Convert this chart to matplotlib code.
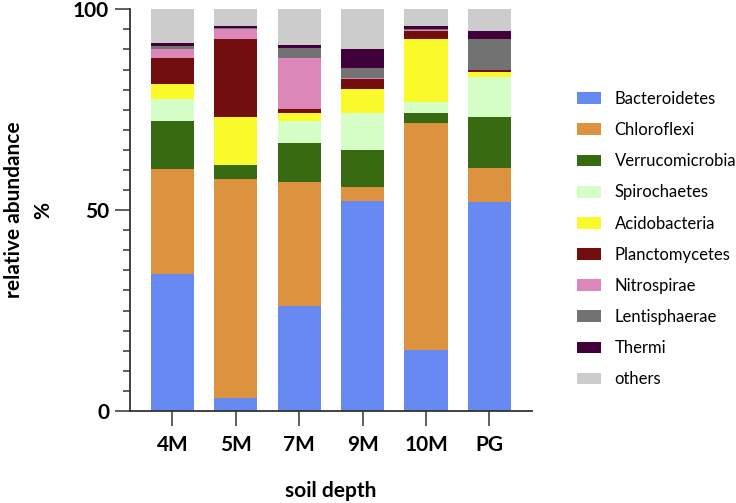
import matplotlib
matplotlib.use("Agg")
import matplotlib.pyplot as plt
from matplotlib.patches import Patch
import numpy as np

plt.rcParams['font.family'] = ['Lato', 'DejaVu Sans']

categories = ["4M", "5M", "7M", "9M", "10M", "PG"]
phyla = ["Bacteroidetes", "Chloroflexi", "Verrucomicrobia", "Spirochaetes",
         "Acidobacteria", "Planctomycetes", "Nitrospirae", "Lentisphaerae",
         "Thermi", "others"]

Bacteroidetes   = [34.2, 3.3, 26.2, 52.4, 15.2, 52.0]
Chloroflexi     = [26.1, 54.4, 30.7, 3.4, 56.5, 8.4]
Verrucomicrobia = [11.8, 3.5, 9.8, 9.1, 2.5, 12.7]
Spirochaetes    = [5.6, 0.0, 5.6, 9.4, 2.6, 10.1]
Acidobacteria   = [3.8, 12.1, 1.9, 5.8, 15.9, 1.3]
Planctomycetes  = [6.3, 19.3, 1.0, 2.5, 2.0, 0.4]
Nitrospirae     = [2.4, 2.5, 12.8, 0.4, 0.2, 0.0]
Lentisphaerae   = [0.6, 0.2, 2.3, 2.4, 0.2, 7.7]
Thermi          = [0.7, 0.6, 0.9, 4.7, 0.8, 1.9]
others          = [8.5, 4.1, 8.8, 9.9, 4.1, 5.5]

series = [Bacteroidetes, Chloroflexi, Verrucomicrobia, Spirochaetes, Acidobacteria,
          Planctomycetes, Nitrospirae, Lentisphaerae, Thermi, others]
colors = ["#6789F2", "#DC923E", "#386A12", "#D5FFC7", "#FAFA2A",
          "#730E0E", "#DB87B8", "#727272", "#42003A", "#CCCCCC"]

fig = plt.figure(figsize=(7.36, 5.03), dpi=100)
ax = fig.add_axes([130/736, 1-411/503, (532-130)/736, (411-9.3)/503])

x = np.arange(len(categories))
bottom = np.zeros(len(categories))
for vals, c, name in zip(series, colors, phyla):
    ax.bar(x, vals, bottom=bottom, width=0.68, color=c, label=name, linewidth=0)
    bottom += np.array(vals)

ax.set_xlim(-0.667, 5.67)
ax.set_ylim(0, 100)
ax.set_yticks([0, 50, 100])
ax.set_yticks(np.arange(0, 101, 5), minor=True)
ax.set_xticks(x)
ax.set_xticklabels(categories)

for s in ['top', 'right']:
    ax.spines[s].set_visible(False)
for s in ['left', 'bottom']:
    ax.spines[s].set_linewidth(1.3)
    ax.spines[s].set_color('#333333')

ax.tick_params(axis='both', which='major', length=11, width=1.1, color='#333333',
               labelsize=15, pad=4)
ax.tick_params(axis='y', which='minor', length=5, width=1.1, color='#333333')
ax.tick_params(axis='x', which='major', pad=6)
for lbl in ax.get_xticklabels() + ax.get_yticklabels():
    lbl.set_fontweight('bold')

ax.set_xlabel("soil depth", fontsize=15, fontweight='bold', labelpad=19)
ax.set_ylabel("relative abundance\n%", fontsize=15, fontweight='bold',
              labelpad=14, linespacing=1.6)

handles = [Patch(facecolor=c, edgecolor='none', label=n) for c, n in zip(colors, phyla)]
fig.legend(handles=handles, loc='upper left',
           bbox_to_anchor=(576.7/736, 1-91/503), frameon=False,
           fontsize=12, handlelength=1.44, handleheight=0.7,
           handletextpad=0.84, labelspacing=0.91, borderpad=0, borderaxespad=0)

fig.savefig("out.png", dpi=100)
